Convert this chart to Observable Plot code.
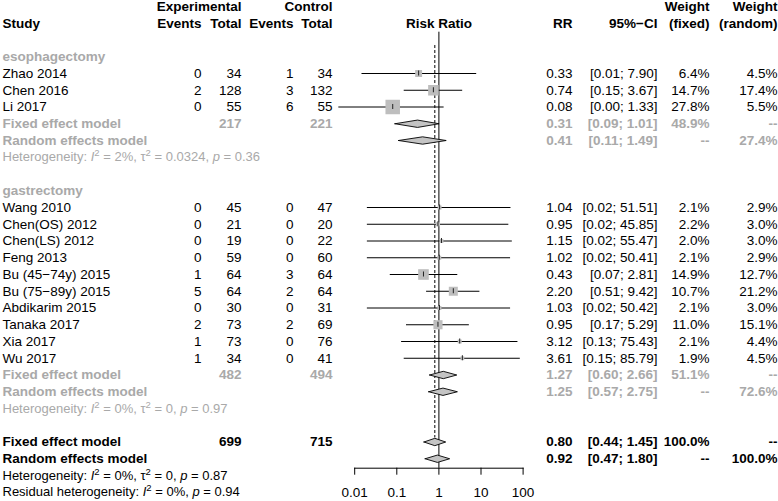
<!DOCTYPE html>
<html><head><meta charset="utf-8">
<script src="https://cdn.jsdelivr.net/npm/d3@7"></script>
<script src="https://cdn.jsdelivr.net/npm/@observablehq/plot@0.6"></script>
<style>body{margin:0;background:#fff}</style>
</head><body><div id="chart"></div>
<script>
// ---------- data ----------
const esoStudy = ["Zhao 2014", "Chen 2016", "Li 2017"];
const esoExpEvents = [0, 2, 0];
const esoExpTotal = [34, 128, 55];
const esoCtrlEvents = [1, 3, 6];
const esoCtrlTotal = [34, 132, 55];
const esoRR = [0.33, 0.74, 0.08];
const esoLower = [0.0149, 0.15, 0.0042];
const esoUpper = [7.90, 3.67, 1.33];
const esoWFixed = [6.4, 14.7, 27.8];
const esoWRandom = [4.5, 17.4, 5.5];

const gasStudy = ["Wang 2010", "Chen(OS) 2012", "Chen(LS) 2012", "Feng 2013", "Bu (45\u221274y) 2015", "Bu (75\u221289y) 2015", "Abdikarim 2015", "Tanaka 2017", "Xia 2017", "Wu 2017"];
const gasExpEvents = [0, 0, 0, 0, 1, 5, 0, 2, 1, 1];
const gasExpTotal = [45, 21, 19, 59, 64, 64, 30, 73, 73, 34];
const gasCtrlEvents = [0, 0, 0, 0, 3, 2, 0, 2, 0, 0];
const gasCtrlTotal = [47, 20, 22, 60, 64, 64, 31, 69, 76, 41];
const gasRR = [1.04, 0.95, 1.15, 1.02, 0.43, 2.20, 1.03, 0.95, 3.12, 3.61];
const gasLower = [0.02, 0.02, 0.02, 0.02, 0.07, 0.51, 0.02, 0.17, 0.13, 0.15];
const gasUpper = [51.51, 45.85, 55.47, 50.41, 2.81, 9.42, 50.42, 5.29, 75.43, 85.79];
const gasWFixed = [2.1, 2.2, 2.0, 2.1, 14.9, 10.7, 2.1, 11.0, 2.1, 1.9];
const gasWRandom = [2.9, 3.0, 3.0, 2.9, 12.7, 21.2, 3.0, 15.1, 4.4, 4.5];

// summaries: [eso fixed, eso random, gas fixed, gas random, overall fixed, overall random]
const sumModel = ["Fixed effect model", "Random effects model", "Fixed effect model", "Random effects model", "Fixed effect model", "Random effects model"];
const sumRR = [0.31, 0.41, 1.27, 1.25, 0.80, 0.92];
const sumLower = [0.09, 0.11, 0.60, 0.57, 0.44, 0.47];
const sumUpper = [1.01, 1.49, 2.66, 2.75, 1.45, 1.80];
const sumWFixed = ["48.9%", "--", "51.1%", "--", "100.0%", "--"];
const sumWRandom = ["--", "27.4%", "--", "72.6%", "--", "100.0%"];
const sumExpTotal = [217, null, 482, null, 699, null];
const sumCtrlTotal = [221, null, 494, null, 715, null];

const hetI2 = ["2%", "0%", "0%"];
const hetTau2 = ["0.0324", "0", "0"];
const hetP = ["0.36", "0.97", "0.87"];
const residI2 = "0%", residP = "0.94";

const groupLabels = ["esophagectomy", "gastrectomy"];
const axisTicks = [0.01, 0.1, 1, 10, 100];

// ---------- layout ----------
const W = 778, H = 501;
const FS = 13.5, FS_HET = 13;
const GRAY = "#a9a9a9", BLACK = "#000";
const rowH = 16.75, row0 = 6;
const xLeft = 354.2, xRight = 522.6;
const cols = {
  study: {x: 2, anchor: "start"},
  expE: {x: 201, anchor: "end"},
  expT: {x: 241, anchor: "end"},
  ctrlE: {x: 293, anchor: "end"},
  ctrlT: {x: 332, anchor: "end"},
  rr: {x: 572, anchor: "end"},
  ci: {x: 657, anchor: "end"},
  wf: {x: 709, anchor: "end"},
  wr: {x: 777, anchor: "end"}
};

// ---------- build tables ----------
const cells = [], studies = [], diamonds = [], hetCells = [];
const cell = (row, col, text, fill, bold) => cells.push({row, col, text: String(text), fill, bold});
const ci = (lo, hi) => `[${lo.toFixed(2)}; ${hi.toFixed(2)}]`;

// headers
[["expT", "Experimental"], ["ctrlT", "Control"], ["wf", "Weight"], ["wr", "Weight"]].forEach(([c, t]) => cell(0, c, t, BLACK, true));
[["study", "Study"], ["expE", "Events"], ["expT", "Total"], ["ctrlE", "Events"], ["ctrlT", "Total"], ["rr", "RR"], ["ci", "95%\u2212CI"], ["wf", "(fixed)"], ["wr", "(random)"]].forEach(([c, t]) => cell(1, c, t, BLACK, true));

function addSummary(row, k, color) {
  cell(row, "study", sumModel[k], color, true);
  if (sumExpTotal[k] != null) cell(row, "expT", sumExpTotal[k], color, true);
  if (sumCtrlTotal[k] != null) cell(row, "ctrlT", sumCtrlTotal[k], color, true);
  cell(row, "rr", sumRR[k].toFixed(2), color, true);
  cell(row, "ci", ci(sumLower[k], sumUpper[k]), color, true);
  cell(row, "wf", sumWFixed[k], color, true);
  cell(row, "wr", sumWRandom[k], color, true);
  diamonds.push({row, rr: sumRR[k], lo: sumLower[k], hi: sumUpper[k]});
}

function addGroup(startRow, g, S) {
  let r = startRow;
  cell(r++, "study", groupLabels[g], GRAY, true);
  S.study.forEach((name, i) => {
    cell(r, "study", name, BLACK, false);
    cell(r, "expE", S.ee[i], BLACK, false);
    cell(r, "expT", S.et[i], BLACK, false);
    cell(r, "ctrlE", S.ce[i], BLACK, false);
    cell(r, "ctrlT", S.ct[i], BLACK, false);
    cell(r, "rr", S.rr[i].toFixed(2), BLACK, false);
    cell(r, "ci", ci(S.lo[i], S.hi[i]), BLACK, false);
    cell(r, "wf", S.wf[i].toFixed(1) + "%", BLACK, false);
    cell(r, "wr", S.wr[i].toFixed(1) + "%", BLACK, false);
    studies.push({row: r, rr: S.rr[i], lo: S.lo[i], hi: S.hi[i], wf: S.wf[i]});
    r++;
  });
  addSummary(r++, 2 * g, GRAY);
  addSummary(r++, 2 * g + 1, GRAY);
  hetCells.push({row: r++, text: `Heterogeneity: I\u00b2 = ${hetI2[g]}, \u03c4\u00b2 = ${hetTau2[g]}, p = ${hetP[g]}`, fill: GRAY});
  return r + 1;
}

let next = addGroup(3, 0, {study: esoStudy, ee: esoExpEvents, et: esoExpTotal, ce: esoCtrlEvents, ct: esoCtrlTotal, rr: esoRR, lo: esoLower, hi: esoUpper, wf: esoWFixed, wr: esoWRandom});
next = addGroup(next, 1, {study: gasStudy, ee: gasExpEvents, et: gasExpTotal, ce: gasCtrlEvents, ct: gasCtrlTotal, rr: gasRR, lo: gasLower, hi: gasUpper, wf: gasWFixed, wr: gasWRandom});
addSummary(next, 4, BLACK);
addSummary(next + 1, 5, BLACK);
hetCells.push({row: next + 2, text: `Heterogeneity: I\u00b2 = ${hetI2[2]}, \u03c4\u00b2 = ${hetTau2[2]}, p = ${hetP[2]}`, fill: BLACK});
hetCells.push({row: next + 3, text: `Residual heterogeneity: I\u00b2 = ${residI2}, p = ${residP}`, fill: BLACK});
const lastRow = next + 3;
const overallFixedRow = next;

const diamondPts = diamonds.flatMap((d, i) => {
  const h = 0.22;
  return [
    {id: i, x: d.lo, y: d.row}, {id: i, x: d.rr, y: d.row - h},
    {id: i, x: d.hi, y: d.row}, {id: i, x: d.rr, y: d.row + h},
    {id: i, x: d.lo, y: d.row}
  ];
});

// ---------- marks ----------
const textMarks = [];
for (const [key, c] of Object.entries(cols)) {
  for (const bold of [false, true]) {
    const data = cells.filter(d => d.col === key && d.bold === bold);
    if (!data.length) continue;
    textMarks.push(Plot.text(data, {
      y: "row", text: "text", fill: "fill",
      frameAnchor: "left", dx: c.x - xLeft, textAnchor: c.anchor,
      fontWeight: bold ? "bold" : "normal", fontSize: FS
    }));
  }
}
textMarks.push(Plot.text(hetCells, {
  y: "row", text: "text", fill: "fill",
  frameAnchor: "left", dx: cols.study.x - xLeft, textAnchor: "start", fontSize: FS_HET
}));

const chart = Plot.plot({
  width: W, height: H,
  marginLeft: xLeft, marginRight: W - xRight,
  marginTop: 31.7, marginBottom: H - 467.7,
  style: {fontFamily: "'Liberation Sans', Arial, Helvetica, sans-serif", fontSize: FS + "px", background: "#fff", overflow: "visible"},
  x: {type: "log", domain: [0.01, 100]},
  y: {domain: [0, lastRow], range: [row0, row0 + lastRow * rowH], axis: null},
  r: {type: "sqrt", domain: [0, 27.8], range: [0, 14.5 / Math.sqrt(Math.PI)]},
  color: {type: "identity"},
  marks: [
    Plot.ruleX([1], {stroke: "#000", strokeWidth: 1}),
    Plot.ruleX([sumRR[4]], {y1: 2.33, y2: overallFixedRow - 0.24, stroke: "#000", strokeWidth: 1, strokeDasharray: "3,2"}),
    Plot.ruleY(studies, {y: "row", x1: "lo", x2: "hi", stroke: "#000", strokeWidth: 1}),
    Plot.dot(studies, {x: "rr", y: "row", r: "wf", symbol: "square", fill: "#bebebe", stroke: "none"}),
    Plot.ruleX(studies, {x: "rr", y1: d => d.row - 0.15, y2: d => d.row + 0.15, stroke: "#222", strokeWidth: 1}),
    Plot.line(diamondPts, {x: "x", y: "y", z: "id", fill: "#c4c4c4", stroke: "#000", strokeWidth: 0.9, curve: "linear"}),
    Plot.frame({anchor: "bottom", stroke: "#000"}),
    Plot.axisX({ticks: axisTicks, tickFormat: d => String(d), tickSize: 7, tickPadding: 12, fontSize: FS, label: null, stroke: "#000"}),
    Plot.text([{x: 1, row: 1, text: "Risk Ratio"}], {x: "x", y: "row", text: "text", fontWeight: "bold", fontSize: FS, fill: "#000"}),
    ...textMarks
  ]
});

// rich text for heterogeneity lines (italic I and p, superscript 2)
const NS = "http://www.w3.org/2000/svg";
chart.querySelectorAll("text").forEach(t => {
  const s = t.textContent;
  if (!s.includes("\u00b2")) return;
  t.textContent = "";
  let pendingDy = 0;
  const add = (str, opts = {}) => {
    const ts = document.createElementNS(NS, "tspan");
    ts.textContent = str;
    for (const [k, v] of Object.entries(opts)) ts.setAttribute(k, v);
    if (pendingDy) { ts.setAttribute("dy", String(pendingDy + (+opts.dy || 0))); pendingDy = 0; }
    t.appendChild(ts);
  };
  const sup = () => { add("2", {"font-size": "9.5px", dy: "-5"}); pendingDy = 5; };
  s.split(/(I\u00b2|\u03c4\u00b2|\bp(?= =))/).forEach(p => {
    if (!p) return;
    if (p === "I\u00b2") { add("I", {"font-style": "italic"}); sup(); }
    else if (p === "\u03c4\u00b2") { add("\u03c4"); sup(); }
    else if (p === "p") add("p", {"font-style": "italic"});
    else add(p);
  });
});

document.getElementById("chart").appendChild(chart);
</script>
</body></html>
